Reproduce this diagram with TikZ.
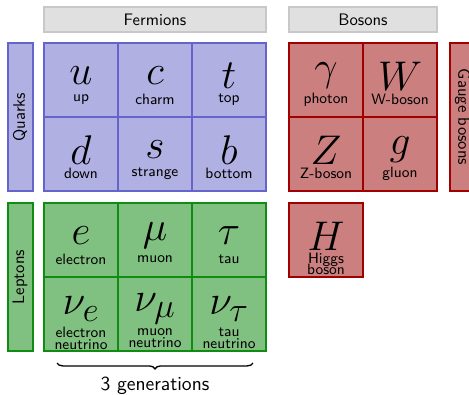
\documentclass[tikz,border=0pt]{standalone}
\usepackage{amsmath}
\usetikzlibrary{calc,decorations.pathreplacing}

\definecolor{quarkfill}{RGB}{176,176,226}
\definecolor{quarkline}{RGB}{100,100,204}
\definecolor{leptonfill}{RGB}{128,192,128}
\definecolor{leptonline}{RGB}{16,140,16}
\definecolor{bosonfill}{RGB}{204,127,127}
\definecolor{bosonline}{RGB}{160,0,0}
\definecolor{headerfill}{RGB}{224,224,224}
\definecolor{headerline}{RGB}{200,200,200}

\begin{document}
\begin{tikzpicture}[
  x=0.6pt, y=-0.6pt,
  every node/.style={font=\sffamily},
  quarkcol/.style={fill=quarkfill,draw=quarkline},
  leptoncol/.style={fill=leptonfill,draw=leptonline},
  bosoncol/.style={fill=bosonfill,draw=bosonline},
  cell/.style={draw,very thick,minimum width=44.4pt,minimum height=44.4pt,
    inner sep=0pt,outer sep=0pt},
  quark/.style={cell,quarkcol},
  lepton/.style={cell,leptoncol},
  boson/.style={cell,bosoncol},
  sym/.style={inner sep=0pt,font=\Huge},
  lbl/.style={inner sep=0pt,align=center,font=\sffamily\small},
  header/.style={draw=headerline,fill=headerfill,very thick,
    minimum height=15pt,inner sep=0pt},
  sidebox/.style={very thick,minimum width=88.8pt,minimum height=15pt,
    inner sep=0pt},
  brace/.style={thick,decorate,decoration={brace,amplitude=3.5pt}}
]

\useasboundingbox (0,0) rectangle (469,394);

% ------------------------------------------------------------
% Headers and side boxes
% ------------------------------------------------------------
\node[header,minimum width=133.2pt] (fermions) at (155,19.5) {Fermions};
\node[header,minimum width=88.8pt] (bosons) at (363,19.5) {Bosons};

\node[sidebox,quarkcol,rotate=90] (quarks) at (20,117) {Quarks};
\node[sidebox,leptoncol,rotate=90] (leptons) at (20,277) {Leptons};
\node[sidebox,bosoncol,rotate=-90] (gauge) at (462.5,117) {Gauge bosons};

% ------------------------------------------------------------
% Quarks
% ------------------------------------------------------------
\node[quark] (u) at (81,80) {};
\node[sym] (u-sym) at ([yshift=2.4pt]u.center) {$u$};
\node[lbl] (u-lbl) at ([yshift=-11.7pt]u.center) {up};

\node[quark] (c) at (155,80) {};
\node[sym] (c-sym) at ([yshift=2.4pt]c.center) {$c$};
\node[lbl] (c-lbl) at ([yshift=-11.7pt]c.center) {charm};

\node[quark] (t) at (229,80) {};
\node[sym] (t-sym) at ([yshift=2.4pt]t.center) {$t$};
\node[lbl] (t-lbl) at ([yshift=-11.7pt]t.center) {top};

\node[quark] (d) at (81,154) {};
\node[sym] (d-sym) at ([yshift=2.4pt]d.center) {$d$};
\node[lbl] (d-lbl) at ([yshift=-11.7pt]d.center) {down};

\node[quark] (s) at (155,154) {};
\node[sym] (s-sym) at ([yshift=2.4pt]s.center) {$s$};
\node[lbl] (s-lbl) at ([yshift=-11.7pt]s.center) {strange};

\node[quark] (b) at (229,154) {};
\node[sym] (b-sym) at ([yshift=2.4pt]b.center) {$b$};
\node[lbl] (b-lbl) at ([yshift=-11.7pt]b.center) {bottom};

% ------------------------------------------------------------
% Leptons
% ------------------------------------------------------------
\node[lepton] (e) at (81,240) {};
\node[sym] (e-sym) at ([yshift=2.4pt]e.center) {$e$};
\node[lbl] (e-lbl) at ([yshift=-11.7pt]e.center) {electron};

\node[lepton] (mu) at (155,240) {};
\node[sym] (mu-sym) at ([yshift=2.4pt]mu.center) {$\mu$};
\node[lbl] (mu-lbl) at ([yshift=-11.7pt]mu.center) {muon};

\node[lepton] (tau) at (229,240) {};
\node[sym] (tau-sym) at ([yshift=2.4pt]tau.center) {$\tau$};
\node[lbl] (tau-lbl) at ([yshift=-11.7pt]tau.center) {tau};

\node[lepton] (nue) at (81,314) {};
\node[sym] (nue-sym) at ([yshift=3pt]nue.center) {$\nu_e$};
\node[lbl] (nue-lbl) at ([yshift=-14.4pt]nue.center) {electron\\[-3.8pt]neutrino};

\node[lepton] (numu) at (155,314) {};
\node[sym] (numu-sym) at ([yshift=3pt]numu.center) {$\nu_\mu$};
\node[lbl] (numu-lbl) at ([yshift=-14.4pt]numu.center) {muon\\[-3.8pt]neutrino};

\node[lepton] (nutau) at (229,314) {};
\node[sym] (nutau-sym) at ([yshift=3pt]nutau.center) {$\nu_\tau$};
\node[lbl] (nutau-lbl) at ([yshift=-14.4pt]nutau.center) {tau\\[-3.8pt]neutrino};

% ------------------------------------------------------------
% Bosons
% ------------------------------------------------------------
\node[boson] (gamma) at (326,80) {};
\node[sym] (gamma-sym) at ([yshift=2.4pt]gamma.center) {$\gamma$};
\node[lbl] (gamma-lbl) at ([yshift=-11.7pt]gamma.center) {photon};

\node[boson] (W) at (400,80) {};
\node[sym] (W-sym) at ([yshift=2.4pt]W.center) {$W$};
\node[lbl] (W-lbl) at ([yshift=-11.7pt]W.center) {W-boson};

\node[boson] (Z) at (326,154) {};
\node[sym] (Z-sym) at ([yshift=2.4pt]Z.center) {$Z$};
\node[lbl] (Z-lbl) at ([yshift=-11.7pt]Z.center) {Z-boson};

\node[boson] (g) at (400,154) {};
\node[sym] (g-sym) at ([yshift=2.4pt]g.center) {$g$};
\node[lbl] (g-lbl) at ([yshift=-11.7pt]g.center) {gluon};

\node[boson] (H) at (326,240) {};
\node[sym] (H-sym) at ([yshift=2.4pt]H.center) {$H$};
\node[lbl] (H-lbl) at ([yshift=-14.1pt]H.center) {Higgs\\[-4.4pt]boson};

% ------------------------------------------------------------
% Generations brace
% ------------------------------------------------------------
\draw[brace] ([xshift=-7.8pt,yshift=-7.2pt]nutau.south east)
  -- ([xshift=7.8pt,yshift=-7.2pt]nue.south west);
\node[font=\sffamily\large,anchor=base] (gen) at (155,390) {3 generations};

\end{tikzpicture}
\end{document}
